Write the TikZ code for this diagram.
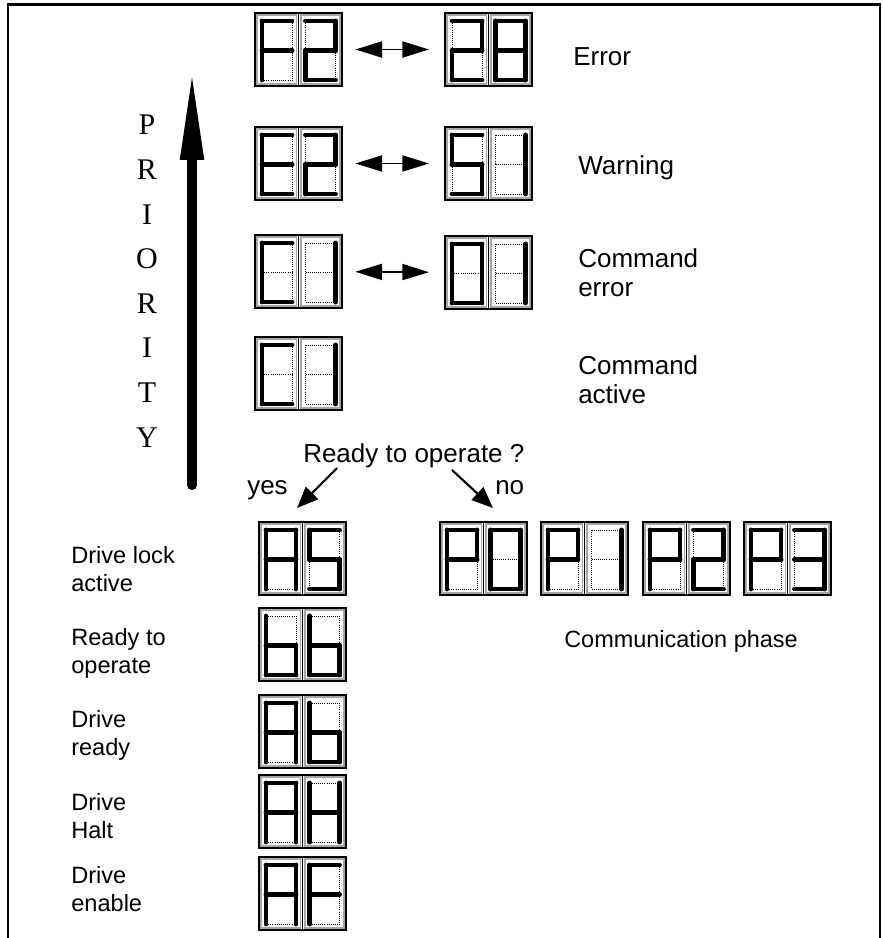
\documentclass[tikz,border=0pt]{standalone}
\usepackage{fontspec}
\setmainfont{Liberation Serif}
\setsansfont{Liberation Sans}
\usetikzlibrary{arrows.meta,calc}

% lit segments of each digit (corner pairs)
\def\segF{LT/RT,LM/LB,LT/LM,LM/RM}
\def\segTwo{LT/RT,RT/RM,LM/RM,LM/LB,LB/RB}
\def\segThree{LT/RT,RT/RM,RM/RB,LB/RB,LM/RM}
\def\segFive{LT/RT,LT/LM,LM/RM,RM/RB,LB/RB}
\def\segEight{LT/RT,RT/RM,RM/RB,LB/RB,LM/LB,LT/LM,LM/RM}
\def\segZero{LT/RT,RT/RM,RM/RB,LB/RB,LM/LB,LT/LM}
\def\segOne{RT/RM,RM/RB}
\def\segE{LT/RT,LB/RB,LM/LB,LT/LM,LM/RM}
\def\segC{LT/RT,LB/RB,LM/LB,LT/LM}
\def\segA{LT/RT,RT/RM,RM/RB,LM/LB,LT/LM,LM/RM}
\def\segb{RM/RB,LB/RB,LM/LB,LT/LM,LM/RM}
\def\segH{RT/RM,RM/RB,LM/LB,LT/LM,LM/RM}
\def\segP{LT/RT,RT/RM,LM/LB,LT/LM,LM/RM}

% one digit cell, drawn from its top left corner
\newcommand\cellsegs[1]{%
  \coordinate (LT) at (7,8);    \coordinate (RT) at (37,8);
  \coordinate (LM) at (7,37.5); \coordinate (RM) at (37,37.5);
  \coordinate (LB) at (7,67);   \coordinate (RB) at (37,67);
  \draw[cellrim] (2.2,2.2) rectangle (41.3,70.8);
  \foreach \p/\q in {LT/RT,RT/RM,RM/RB,LB/RB,LM/LB,LT/LM,LM/RM}
    \draw[segoff] (\p) -- (\q);
  \foreach \p/\q in #1
    \draw[segon] (\p) -- (\q);
}

% two digit display: name, top left corner, left digit, right digit
\newcommand\sevenseg[4]{%
  \node[dispbox] (#1) at #2 {};
  \begin{scope}[shift={(#1.north west)}]\cellsegs{#3}\end{scope}
  \begin{scope}[shift={(#1.north)}]\cellsegs{#4}\end{scope}
  \draw[displine] (#1.north) -- (#1.south);
}

\begin{document}
\begin{tikzpicture}[
        x=0.75pt, y=-0.75pt,
        % display parts
        dispbox/.style={draw=black, line width=0.9pt, fill=white, anchor=north west,
            minimum width=65.25pt, minimum height=54.75pt, inner sep=0pt, outer sep=0pt},
        displine/.style={draw=black, line width=0.9pt},
        cellrim/.style={draw=black!35, line width=1.2pt},
        segon/.style={line width=3.7pt, line cap=round},
        segoff/.style={line width=0.6pt, dash pattern=on 0.7pt off 0.9pt},
        % arrows
        toggle/.style={{Triangle[length=20pt,width=12pt]}-{Triangle[length=20pt,width=12pt]},
            line width=1.4pt, shorten <=10pt, shorten >=12pt},
        decide/.style={-{Triangle[length=16pt,width=13pt]}, line width=1.6pt},
        prioarrow/.style={line width=7.5pt, line cap=round, -{Triangle[length=69pt,width=16pt]}},
        % texts
        statelabel/.style={anchor=north west, inner sep=0pt, align=left,
            font=\sffamily\fontsize{19.5pt}{22pt}\selectfont},
        modelabel/.style={anchor=north west, inner sep=0pt, align=left,
            font=\sffamily\fontsize{17.7pt}{21pt}\selectfont},
        prioletter/.style={inner sep=0pt, font=\rmfamily\fontsize{22.5pt}{27pt}\selectfont}
    ]
    \useasboundingbox (0,0) rectangle (882,938);

    % open frame
    \draw[line width=2pt] (8,938) -- (8,4.5) -- (880,4.5) -- (880,938);

    % priority scale
    \foreach \ch [count=\i from 0] in {P,R,I,O,R,I,T,Y}
        \node[prioletter] (prio\i) at (147,{125+44.6*\i}) {\ch};
    \coordinate (prio_tail) at (192,485);
    \coordinate (prio_head) at (192,68);
    \draw[prioarrow] (prio_tail) -- (prio_head);

    % messages by priority
    \sevenseg{err_a}{(255,13)}{\segF}{\segTwo}
    \sevenseg{err_b}{(445,13)}{\segTwo}{\segEight}
    \sevenseg{warn_a}{(255,127)}{\segE}{\segTwo}
    \sevenseg{warn_b}{(445,127)}{\segFive}{\segOne}
    \sevenseg{cmd_a}{(255,235)}{\segC}{\segOne}
    \sevenseg{cmd_b}{(445,236)}{\segZero}{\segOne}
    \sevenseg{cmd_act}{(255,337)}{\segC}{\segOne}
    \draw[toggle] (err_a) -- (err_b);
    \draw[toggle] (warn_a) -- (warn_b);
    \draw[toggle] (cmd_a) -- (cmd_b);

    \node[statelabel] (err_txt) at (573,47) {Error};
    \node[statelabel] (warn_txt) at (578,155) {Warning};
    \node[statelabel] (cmd_txt) at (578,248) {Command\\error};
    \node[statelabel] (act_txt) at (578,355) {Command\\active};

    % decision
    \node[statelabel] (ready) at (303,443) {Ready to operate ?};
    \node[statelabel] (yes) at (247,480) {yes};
    \node[statelabel] (no) at (495,480) {no};
    \coordinate (yes_from) at (337,468);
    \coordinate (yes_to) at (297,508);
    \coordinate (no_from) at (452,470);
    \coordinate (no_to) at (493,508);
    \draw[decide] (yes_from) -- (yes_to);
    \draw[decide] (no_from) -- (no_to);

    % operating states
    \sevenseg{lock}{(259,522)}{\segA}{\segFive}
    \sevenseg{bb}{(259,608)}{\segb}{\segb}
    \sevenseg{rdy}{(259,695)}{\segA}{\segb}
    \sevenseg{halt}{(259,775)}{\segA}{\segH}
    \sevenseg{enab}{(259,857)}{\segA}{\segF}

    \node[modelabel] (lock_txt) at (71,546) {Drive lock\\active};
    \node[modelabel] (bb_txt) at (71,628) {Ready to\\operate};
    \node[modelabel] (rdy_txt) at (71,710) {Drive\\ready};
    \node[modelabel] (halt_txt) at (71,793) {Drive\\Halt};
    \node[modelabel] (enab_txt) at (71,866) {Drive\\enable};

    % communication phases
    \sevenseg{ph0}{(440,522)}{\segP}{\segZero}
    \sevenseg{ph1}{(541,522)}{\segP}{\segOne}
    \sevenseg{ph2}{(643,522)}{\segP}{\segTwo}
    \sevenseg{ph3}{(744,522)}{\segP}{\segThree}
    \node[statelabel, font=\sffamily\fontsize{17.6pt}{21pt}\selectfont] (comm_txt) at (564,630) {Communication phase};

\end{tikzpicture}
\end{document}
